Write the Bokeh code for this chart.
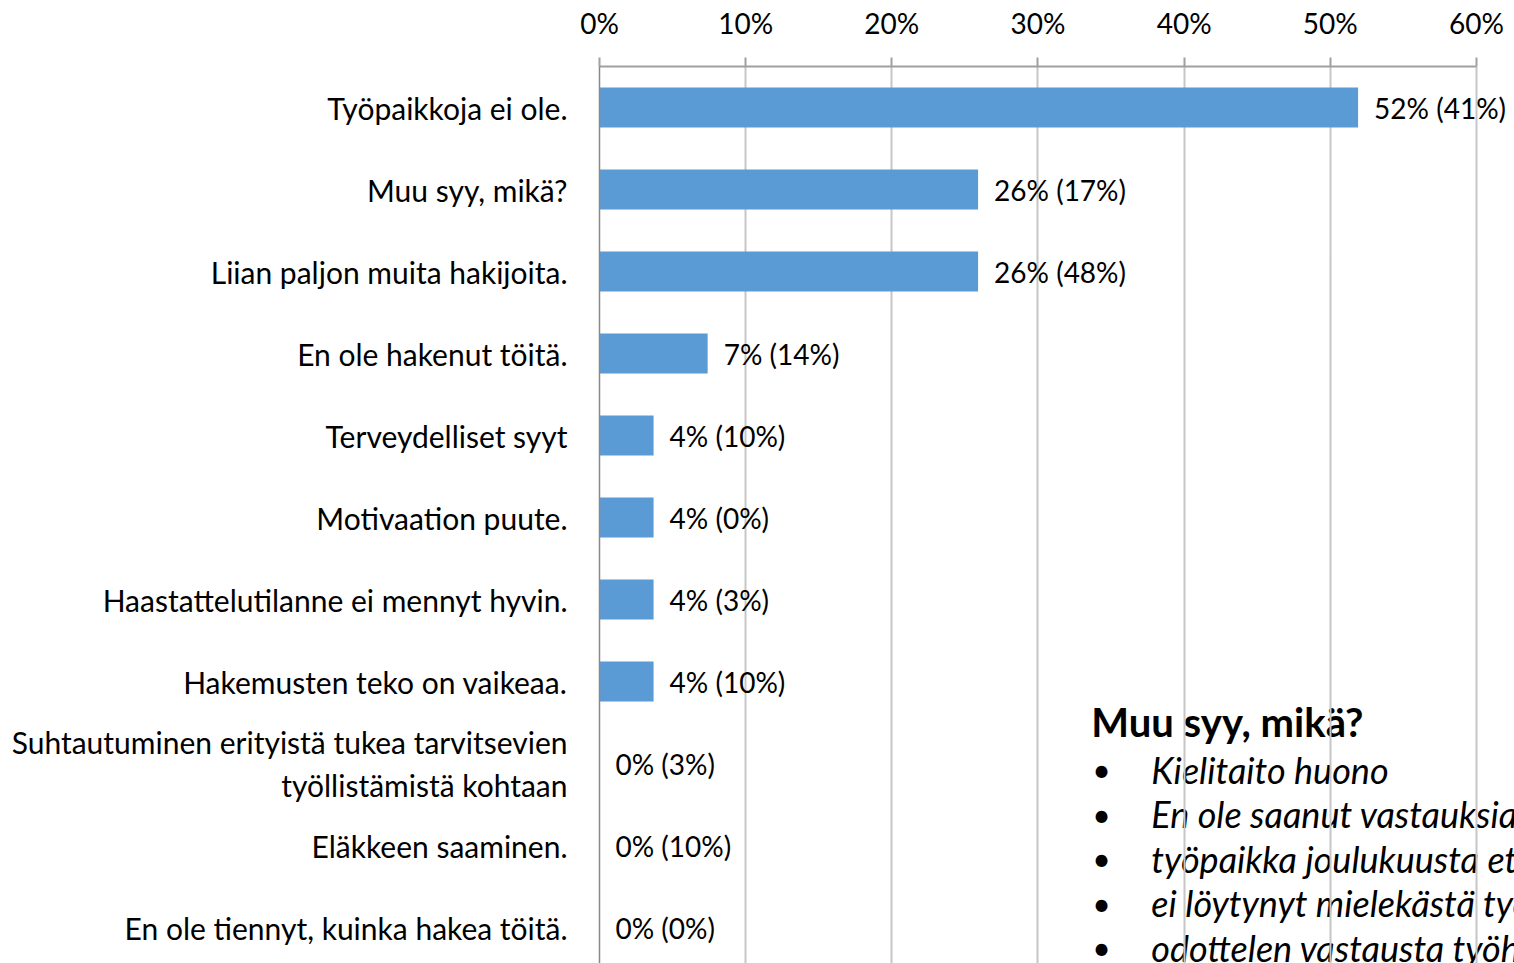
from bokeh.plotting import figure
from bokeh.models import ColumnDataSource, Range1d, FixedTicker, LabelSet, Label
from bokeh.core.properties import value
from bokeh.embed import file_html
from bokeh.resources import INLINE

categories = [
    "Työpaikkoja ei ole.",
    "Muu syy, mikä?",
    "Liian paljon muita hakijoita.",
    "En ole hakenut töitä.",
    "Terveydelliset syyt",
    "Motivaation puute.",
    "Haastattelutilanne ei mennyt hyvin.",
    "Hakemusten teko on vaikeaa.",
    "Suhtautuminen erityistä tukea tarvitsevien\ntyöllistämistä kohtaan",
    "Eläkkeen saaminen.",
    "En ole tiennyt, kuinka hakea töitä.",
]
values = [51.9, 25.9, 25.9, 7.4, 3.7, 3.7, 3.7, 3.7, 0.0, 0.0, 0.0]
value_labels = ["52% (41%)", "26% (17%)", "26% (48%)", "7% (14%)", "4% (10%)",
                "4% (0%)", "4% (3%)", "4% (10%)", "0% (3%)", "0% (10%)", "0% (0%)"]
x_ticks = [0, 10, 20, 30, 40, 50, 60]
x_tick_labels = ["0%", "10%", "20%", "30%", "40%", "50%", "60%"]
note_title = "Muu syy, mikä?"
note_items = [
    "Kielitaito huono",
    "En ole saanut vastauksia",
    "työpaikka joulukuusta eteenpäin",
    "ei löytynyt mielekästä työtä",
    "odottelen vastausta työhakemukseen",
]

FONT = "Lato"
idx = list(range(len(categories)))
src = ColumnDataSource(dict(y=idx, v=values, lab=value_labels))

p = figure(width=1514, height=963, output_backend="svg", toolbar_location=None,
           x_axis_location="above",
           x_range=Range1d(0, 62.6), y_range=Range1d(10.439, -0.5),
           min_border_left=599, min_border_right=0, min_border_top=66, min_border_bottom=0)
p.outline_line_color = None
p.background_fill_color = "white"
p.border_fill_color = "white"

# grid
p.xgrid.ticker = FixedTicker(ticks=x_ticks)
p.xgrid.grid_line_color = "#c6c6c6"
p.xgrid.grid_line_width = 2
p.ygrid.grid_line_color = None

# x axis (top)
xa = p.xaxis[0]
xa.ticker = FixedTicker(ticks=x_ticks)
xa.bounds = (0, 60)
xa.major_label_overrides = {t: l for t, l in zip(x_ticks, x_tick_labels)}
xa.axis_line_color = "#a0a0a0"
xa.axis_line_width = 2
xa.major_tick_line_color = "#a0a0a0"
xa.major_tick_line_width = 2
xa.major_tick_out = 9
xa.major_tick_in = 0
xa.minor_tick_line_color = None
xa.major_label_standoff = 18
xa.major_label_text_font = FONT
xa.major_label_text_font_size = "28px"
xa.major_label_text_color = "#000000"

# y axis (categories)
ya = p.yaxis[0]
ya.ticker = FixedTicker(ticks=idx)
ya.major_label_overrides = {i: c for i, c in zip(idx, categories)}
ya.axis_line_color = "#888888"
ya.axis_line_width = 1.5
ya.major_tick_line_color = None
ya.minor_tick_line_color = None
ya.major_tick_out = 0
ya.major_tick_in = 0
ya.major_label_standoff = 32
ya.major_label_text_font = FONT
ya.major_label_text_font_size = "30px"
ya.major_label_text_color = "#000000"

p.hbar(y="y", right="v", left=0, height=0.49, source=src,
       fill_color="#5b9bd5", line_color=None)

labels = LabelSet(x="v", y="y", text="lab", source=src, x_offset=16,
                  text_baseline="middle", text_align="left",
                  text_font=value(FONT), text_font_size=value("28px"),
                  text_color=value("#000000"))
p.add_layout(labels)

# note box (drawn beneath the grid)
nx = 33.65
p.add_layout(Label(x=nx, y=7.49, text=note_title, text_font=FONT, text_font_style="bold",
                   text_font_size="40px", text_baseline="middle", text_color="#000000",
                   level="image"))
for k, item in enumerate(note_items):
    yy = 8.075 + k * 0.543
    p.add_layout(Label(x=nx, y=yy, x_offset=1, text="•", text_font=FONT,
                       text_font_size="32px", text_baseline="middle", text_color="#000000",
                       level="image"))
    p.add_layout(Label(x=nx, y=yy, x_offset=60, text=item, text_font=FONT,
                       text_font_style="italic", text_font_size="36px",
                       text_baseline="middle", text_color="#000000", level="image"))

open("out.html", "w").write(file_html(p, INLINE))
